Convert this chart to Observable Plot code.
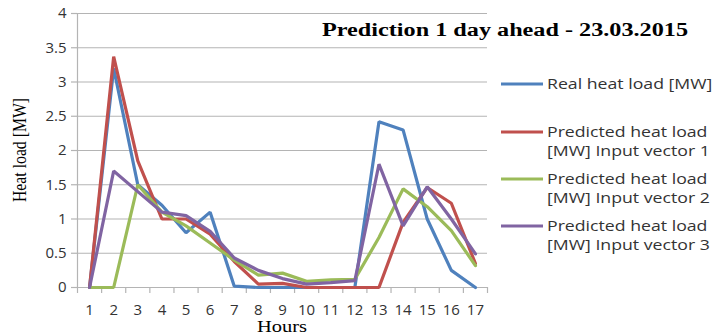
<!DOCTYPE html>
<html><head><meta charset="utf-8">
<script src="https://cdn.jsdelivr.net/npm/d3@7"></script>
<script src="https://cdn.jsdelivr.net/npm/@observablehq/plot@0.6"></script>
<style>body{margin:0;background:#fff;} #chart{position:relative;width:716px;height:334px;}</style>
</head><body><div id="chart"></div>
<script>
const hours = [1,2,3,4,5,6,7,8,9,10,11,12,13,14,15,16,17];
const realLoad  = [0,3.2,1.5,1.2,0.8,1.1,0.02,0,0,0,0,0,2.42,2.3,1.0,0.25,0];
const predicted1 = [0,3.37,1.85,1.0,1.0,0.78,0.38,0.05,0.06,0,0,0,0,0.95,1.46,1.23,0.35];
const predicted2 = [0,0,1.5,1.1,0.9,0.65,0.4,0.18,0.21,0.09,0.11,0.12,0.73,1.44,1.18,0.83,0.32];
const predicted3 = [0,1.7,1.4,1.1,1.05,0.82,0.43,0.25,0.13,0.05,0.07,0.1,1.8,0.9,1.47,1.0,0.49];
const yTicks = [0,0.5,1,1.5,2,2.5,3,3.5,4];
const seriesNames = ["Real heat load [MW]","Predicted heat load\n[MW] Input vector 1","Predicted heat load\n[MW] Input vector 2","Predicted heat load\n[MW] Input vector 3"];
const colors = ["#4F81BD","#C0504D","#9BBB59","#8064A2"];
const title = "Prediction 1 day ahead - 23.03.2015";

const allSeries = [realLoad, predicted1, predicted2, predicted3];
const rows = allSeries.flatMap((vals, s) => vals.map((v, i) => ({hour: hours[i], value: v, series: seriesNames[s]})));
const boundaries = hours.map(h => h - 0.5).concat(hours[hours.length-1] + 0.5);

const sans = "'Open Sans', sans-serif";
const serif = "'Liberation Serif', 'DejaVu Serif', serif";

const plot = Plot.plot({
  width: 716, height: 334,
  marginLeft: 77, marginRight: 229, marginTop: 13, marginBottom: 47,
  style: {fontFamily: sans, fontSize: "14px", color: "#222", background: "#fff"},
  x: {type: "linear", domain: [0.5, 17.5]},
  y: {domain: [0, 4]},
  color: {domain: seriesNames, range: colors},
  marks: [
    Plot.gridY(yTicks, {stroke: "#b4b4b4", strokeOpacity: 1, strokeWidth: 1.2}),
    Plot.axisY(yTicks, {tickSize: 6, stroke: "#b4b4b4", strokeWidth: 1.2, tickPadding: 5, fontSize: 15, label: null, tickFormat: d => String(d), fill: "#333"}),
    Plot.axisX(boundaries, {tickSize: 6, stroke: "#b4b4b4", strokeWidth: 1.2, tickFormat: () => "", label: null}),
    Plot.axisX(hours, {tickSize: 0, tickPadding: 17, fontSize: 15, label: null, fill: "#333"}),
    Plot.ruleY([0], {stroke: "#b4b4b4", strokeWidth: 1.2}),
    Plot.ruleX([0.5], {stroke: "#b4b4b4", strokeWidth: 1.2}),
    Plot.lineY(rows, {x: "hour", y: "value", z: "series", stroke: "series", strokeWidth: 3.2, strokeLinejoin: "miter"})
  ]
});

const svg = d3.select(plot);
svg.append("text").attr("x", 322).attr("y", 36).attr("text-anchor", "start").attr("font-family", serif).attr("font-weight", "bold")
  .attr("font-size", 18).attr("fill", "#000").attr("textLength", 366).attr("lengthAdjust", "spacingAndGlyphs").text(title);
svg.append("text").attr("transform", "translate(26,150) rotate(-90)").attr("text-anchor", "middle")
  .attr("font-family", serif).attr("font-size", 18).attr("fill", "#000")
  .attr("textLength", 104).attr("lengthAdjust", "spacingAndGlyphs").text("Heat load [MW]");
svg.append("text").attr("x", 282).attr("y", 332).attr("text-anchor", "middle")
  .attr("font-family", serif).attr("font-size", 16).attr("fill", "#000")
  .attr("textLength", 50).attr("lengthAdjust", "spacingAndGlyphs").text("Hours");

const legendY = [84, 132, 179, 226];
seriesNames.forEach((name, i) => {
  const g = svg.append("g");
  g.append("line").attr("x1", 501).attr("x2", 543).attr("y1", legendY[i]).attr("y2", legendY[i])
    .attr("stroke", colors[i]).attr("stroke-width", 3);
  const t = g.append("text").attr("transform", "translate(547,0) scale(1.18,1)").attr("text-anchor", "start")
    .attr("font-family", sans).attr("font-size", 15).attr("fill", "#333");
  name.split("\n").forEach((ln, j) => {
    t.append("tspan").attr("x", 0).attr("y", legendY[i] + 5 + j * 19).text(ln);
  });
});
document.getElementById("chart").appendChild(plot);
</script></body></html>
